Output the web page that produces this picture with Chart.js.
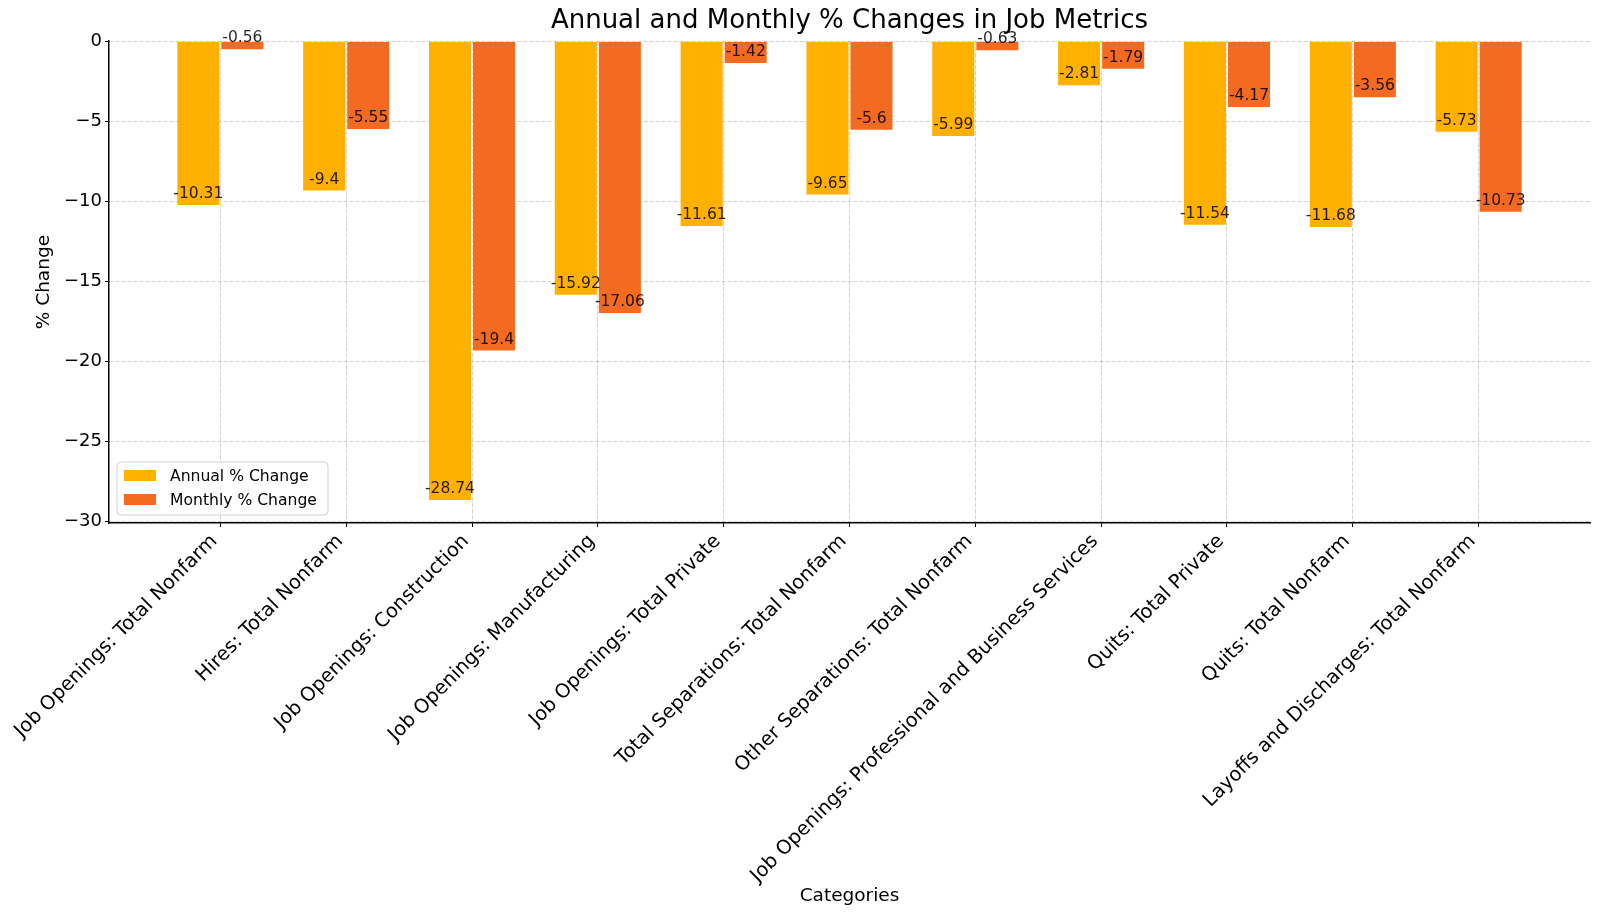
<!DOCTYPE html>
<html>
<head>
<meta charset="utf-8">
<title>Annual and Monthly % Changes in Job Metrics</title>
<script src="https://cdn.jsdelivr.net/npm/chart.js@4/dist/chart.umd.min.js"></script>
<style>
  html, body { margin: 0; padding: 0; background: #fff; }
  #wrap { width: 1600px; height: 919px; position: relative; }
</style>
</head>
<body>
<div id="wrap"><canvas id="chart"></canvas></div>
<script>
// categories and values
const categories = [
  'Job Openings: Total Nonfarm',
  'Hires: Total Nonfarm',
  'Job Openings: Construction',
  'Job Openings: Manufacturing',
  'Job Openings: Total Private',
  'Total Separations: Total Nonfarm',
  'Other Separations: Total Nonfarm',
  'Job Openings: Professional and Business Services',
  'Quits: Total Private',
  'Quits: Total Nonfarm',
  'Layoffs and Discharges: Total Nonfarm'
];
const annualChange = [-10.31, -9.4, -28.74, -15.92, -11.61, -9.65, -5.99, -2.81, -11.54, -11.68, -5.73];
const monthlyChange = [-0.56, -5.55, -19.4, -17.06, -1.42, -5.6, -0.63, -1.79, -4.17, -3.56, -10.73];
const yTicks = [0, -5, -10, -15, -20, -25, -30];

Chart.defaults.font.family = "'DejaVu Sans', sans-serif";
Chart.defaults.color = '#000';

const FONT = "'DejaVu Sans', sans-serif";

// value written at the end of every bar
const barLabels = {
  id: 'barLabels',
  afterDraw(chart) {
    const ctx = chart.ctx;
    const yScale = chart.scales.y;
    ctx.save();
    ctx.font = '15.5px ' + FONT;
    ctx.fillStyle = 'rgba(0,0,0,0.85)';
    ctx.textAlign = 'center';
    ctx.textBaseline = 'alphabetic';
    chart.data.datasets.forEach((ds, i) => {
      const meta = chart.getDatasetMeta(i);
      meta.data.forEach((bar, j) => {
        const v = ds.data[j].y;
        ctx.fillText(String(v), bar.x, yScale.getPixelForValue(v) - 8);
      });
    });
    ctx.restore();
  }
};

// legend box in the lower left corner of the plot
const innerLegend = {
  id: 'innerLegend',
  afterDraw(chart) {
    const ctx = chart.ctx;
    const area = chart.chartArea;
    const x0 = area.left + 8, y0 = area.bottom - 61, w = 211, h = 53;
    ctx.save();
    ctx.beginPath();
    ctx.roundRect(x0, y0, w, h, 4);
    ctx.fillStyle = 'rgba(255,255,255,0.8)';
    ctx.fill();
    ctx.strokeStyle = '#d0d0d0';
    ctx.lineWidth = 1;
    ctx.stroke();
    ctx.font = '15.6px ' + FONT;
    ctx.textBaseline = 'alphabetic';
    chart.data.datasets.forEach((ds, i) => {
      const top = y0 + 8 + i * 24;
      ctx.fillStyle = ds.backgroundColor;
      ctx.fillRect(x0 + 7, top, 32, 11);
      ctx.fillStyle = '#000';
      ctx.fillText(ds.label, x0 + 53, top + 11);
    });
    ctx.restore();
  }
};

const toPoints = arr => arr.map((v, i) => ({ x: i, y: v }));

new Chart(document.getElementById('chart'), {
  type: 'bar',
  data: {
    datasets: [
      {
        label: 'Annual % Change',
        data: toPoints(annualChange),
        backgroundColor: '#FFB000',
        borderColor: 'rgba(255,255,255,0.25)',
        borderWidth: 1
      },
      {
        label: 'Monthly % Change',
        data: toPoints(monthlyChange),
        backgroundColor: '#F26B21',
        borderColor: 'rgba(255,255,255,0.25)',
        borderWidth: 1
      }
    ]
  },
  options: {
    responsive: true,
    maintainAspectRatio: false,
    animation: false,
    categoryPercentage: 0.7,
    barPercentage: 1.0,
    layout: { padding: { left: 0, right: 10, top: 0, bottom: 0 } },
    plugins: {
      legend: { display: false },
      tooltip: { enabled: false },
      title: {
        display: true,
        text: 'Annual and Monthly % Changes in Job Metrics',
        fullSize: false,
        color: '#000',
        font: { size: 26, weight: 'normal', family: FONT },
        padding: { top: 6, bottom: 4 }
      }
    },
    scales: {
      x: {
        type: 'linear',
        min: -0.885,
        max: 10.885,
        offset: false,
        z: 1,
        afterBuildTicks: axis => {
          axis.ticks = categories.map((c, i) => ({ value: i }));
        },
        afterFit: axis => { axis.height = 396; },
        ticks: {
          autoSkip: false,
          minRotation: 45,
          maxRotation: 45,
          padding: 3,
          labelOffset: -6,
          color: '#000',
          font: { size: 19.5, family: FONT },
          callback: v => categories[v]
        },
        grid: {
          offset: false,
          color: 'rgba(170,170,170,0.55)',
          lineWidth: 1,
          tickColor: '#000',
          tickLength: 4,
          tickBorderDash: []
        },
        border: { display: true, color: '#000', width: 1.5, dash: [4, 2] },
        title: {
          display: true,
          text: 'Categories',
          color: '#000',
          font: { size: 18.5, family: FONT },
          padding: { top: 0, bottom: 12 }
        }
      },
      y: {
        min: -30.12,
        max: 0,
        z: 1,
        afterBuildTicks: axis => {
          axis.ticks = yTicks.map(v => ({ value: v }));
        },
        afterFit: axis => { axis.width = 109; },
        ticks: {
          padding: 3,
          color: '#000',
          font: { size: 18, family: FONT },
          callback: v => (v < 0 ? '\u2212' + Math.abs(v) : String(v))
        },
        grid: {
          color: 'rgba(170,170,170,0.55)',
          lineWidth: 1,
          tickColor: '#000',
          tickLength: 4,
          tickBorderDash: []
        },
        border: { display: true, color: '#000', width: 1.5, dash: [4, 2] },
        title: {
          display: true,
          text: '% Change',
          color: '#000',
          font: { size: 18.5, family: FONT },
          padding: { top: 33, bottom: 0 }
        }
      }
    }
  },
  plugins: [barLabels, innerLegend]
});
</script>
</body>
</html>
